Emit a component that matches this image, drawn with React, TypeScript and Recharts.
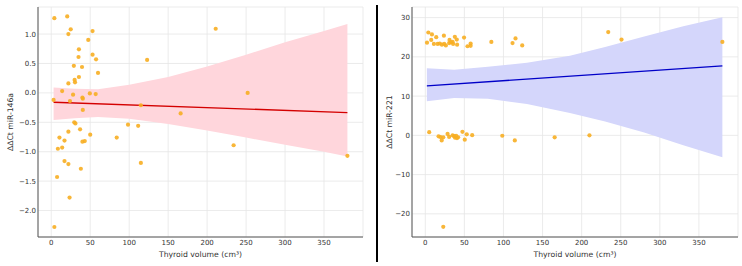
import { ComposedChart, Scatter, Line, Area, XAxis, YAxis, CartesianGrid } from 'recharts'

// thyroid volume (cm³) vs ΔΔCt miR-146a
const vol146 = [
  4, 20.5, 25, 22, 53, 47.5, 35.5, 53, 35, 57.5, 29, 39.5, 60, 35.5, 30, 22, 30.5, 14, 3, 28,
  49.5, 57, 40, 40.5, 24, 40.5, 115, 166, 123, 29.5, 31, 98.5, 111.5, 37, 22, 50, 10.5, 17, 84, 40,
  43, 8.5, 14, 17, 22, 38, 115, 7.5, 23.5, 4, 211, 252, 234, 380,
]
const ct146 = [
  1.27, 1.3, 1.08, 1.0, 1.05, 0.9, 0.74, 0.65, 0.61, 0.57, 0.46, 0.44, 0.34, 0.27, 0.22, 0.16, 0.18, 0.03, -0.12, -0.03,
  -0.01, -0.02, -0.08, -0.1, -0.14, -0.29, -0.21, -0.35, 0.56, -0.5, -0.52, -0.54, -0.56, -0.62, -0.66, -0.71, -0.76, -0.81, -0.76, -0.83,
  -0.82, -0.95, -0.93, -1.16, -1.21, -1.29, -1.19, -1.43, -1.78, -2.28, 1.09, 0.0, -0.89, -1.07,
]
const fitX146 = [3, 380]
const fitY146 = [-0.16, -0.335]
const bandX146 = [3, 30, 60, 100, 150, 200, 250, 300, 350, 380]
const bandLo146 = [-0.46, -0.43, -0.41, -0.44, -0.53, -0.64, -0.76, -0.88, -1.0, -1.08]
const bandHi146 = [0.09, 0.07, 0.06, 0.14, 0.27, 0.45, 0.65, 0.86, 1.05, 1.17]

// thyroid volume (cm³) vs ΔΔCt miR-221
const vol221 = [
  3.9, 8.5, 14, 23.8, 37.8, 49.6, 2.2, 7.6, 31, 40.3, 35, 11, 15.8, 18.5, 21.2, 24.2, 26.3, 30.5, 32.7, 35.6,
  40.7, 54, 58, 58, 84.5, 111.6, 115.4, 124, 234, 251, 380,
  5, 17, 19.5, 21, 23, 28.5, 30.5, 35, 37, 38, 39.5, 40.5, 42, 47.5, 50.5, 53, 60, 98.5, 114.5, 165.5,
  210, 23,
]
const ct221 = [
  26.2, 25.7, 25.0, 25.4, 25.1, 24.9, 23.6, 24.3, 24.3, 24.4, 23.8, 23.3, 23.3, 23.4, 23.1, 23.3, 22.9, 23.5, 23.7, 23.3,
  23.1, 22.7, 23.4, 22.8, 23.8, 23.5, 24.7, 22.9, 26.3, 24.4, 23.8,
  0.8, -0.25, -0.45, -1.3, -0.5, 0.35, -0.4, 0.0, -0.2, -0.6, -0.1, -0.7, -0.5, 0.9, -1.1, 0.25, 0.05, -0.1, -1.3, -0.5,
  0.0, -23.3,
]
const fitX221 = [2, 380]
const fitY221 = [12.6, 17.7]
const bandX221 = [2, 37, 80, 130, 185, 230, 280, 330, 380]
const bandLo221 = [8.7, 9.5, 9.3, 8.0, 5.7, 3.5, 0.7, -2.5, -5.6]
const bandHi221 = [17.1, 16.7, 17.5, 18.5, 20.3, 22.5, 25.2, 27.8, 30.1]

const xTicks = [0, 50, 100, 150, 200, 250, 300, 350]
const yTicks146 = [-2, -1.5, -1, -0.5, 0, 0.5, 1]
const yTicks221 = [-20, -10, 0, 10, 20, 30]

const minus = (s: string) => s.replace('-', '\u2212')
const zip = (xs: number[], ys: number[]) => xs.map((x, i) => ({ x, y: ys[i] }))
const band = (xs: number[], lo: number[], hi: number[]) => xs.map((x, i) => ({ x, band: [lo[i], hi[i]] }))

const tickStyle = { fontSize: 7, fill: '#333' }
const axisStroke = '#555'
const labelSize = 7.7

const Dot = (p: any) => <circle cx={p.cx} cy={p.cy} r={2.1} fill="#f7ae22" fillOpacity={0.9} />

function YLabel({ viewBox, text, dx }: any) {
  const x = viewBox.x + dx
  const y = viewBox.y + viewBox.height / 2
  return (
    <text x={x} y={y} transform={`rotate(-90 ${x} ${y})`} textAnchor="middle" dominantBaseline="central" fontSize={labelSize} fill="#333">
      {text}
    </text>
  )
}

interface PanelProps {
  width: number
  yWidth: number
  marginRight: number
  pts: { x: number; y: number }[]
  fit: { x: number; y: number }[]
  ci: { x: number; band: number[] }[]
  yDomain: number[]
  yTicks: number[]
  yFmt: (v: number) => string
  yLabel: string
  labelDx: number
  lineColor: string
  bandColor: string
}

function Panel(p: PanelProps) {
  return (
    <ComposedChart width={p.width} height={266} margin={{ top: 7, right: p.marginRight, bottom: 0, left: 8 }}>
      <CartesianGrid stroke="#e6e6e6" strokeWidth={0.8} />
      <XAxis
        type="number"
        dataKey="x"
        domain={[-17, 400]}
        ticks={xTicks}
        allowDataOverflow
        height={29}
        tickLine={false}
        tickSize={0}
        tickMargin={3}
        tick={tickStyle}
        stroke={axisStroke}
        label={{ value: 'Thyroid volume (cm³)', position: 'insideBottom', offset: 9.5, fontSize: labelSize, fill: '#333' }}
      />
      <YAxis
        type="number"
        dataKey="y"
        domain={p.yDomain}
        ticks={p.yTicks}
        allowDataOverflow
        width={p.yWidth}
        tickLine={false}
        tickSize={0}
        tickMargin={2}
        tick={tickStyle}
        tickFormatter={p.yFmt}
        stroke={axisStroke}
        label={{ content: (lp: any) => <YLabel viewBox={lp.viewBox} text={p.yLabel} dx={p.labelDx} /> }}
      />
      <Area data={p.ci} dataKey="band" type="linear" stroke="none" fill={p.bandColor} fillOpacity={1} isAnimationActive={false} />
      <Line data={p.fit} dataKey="y" type="linear" stroke={p.lineColor} strokeWidth={1.4} dot={false} isAnimationActive={false} />
      <Scatter data={p.pts} dataKey="y" shape={Dot} isAnimationActive={false} />
    </ComposedChart>
  )
}

export default function App() {
  return (
    <div
      style={{
        position: 'absolute',
        left: 0,
        top: 0,
        width: 742,
        height: 266,
        background: '#fff',
        fontFamily: '"DejaVu Sans", sans-serif',
      }}
    >
      <div style={{ position: 'absolute', left: 0, top: 0 }}>
        <Panel
          width={370}
          yWidth={30}
          marginRight={7}
          pts={zip(vol146, ct146)}
          fit={zip(fitX146, fitY146)}
          ci={band(bandX146, bandLo146, bandHi146)}
          yDomain={[-2.45, 1.46]}
          yTicks={yTicks146}
          yFmt={(v) => minus(v.toFixed(1))}
          yLabel="ΔΔCt miR-146a"
          labelDx={2.5}
          lineColor="#d40000"
          bandColor="#ffd6dc"
        />
      </div>
      <div style={{ position: 'absolute', left: 376, top: 5, width: 2, height: 257, background: '#000' }} />
      <div style={{ position: 'absolute', left: 378, top: 0 }}>
        <Panel
          width={364}
          yWidth={26}
          marginRight={4}
          pts={zip(vol221, ct221)}
          fit={zip(fitX221, fitY221)}
          ci={band(bandX221, bandLo221, bandHi221)}
          yDomain={[-25.9, 32.7]}
          yTicks={yTicks221}
          yFmt={(v) => minus(String(v))}
          yLabel="ΔΔCt miR-221"
          labelDx={3.5}
          lineColor="#0000c8"
          bandColor="#d4d6fb"
        />
      </div>
    </div>
  )
}
